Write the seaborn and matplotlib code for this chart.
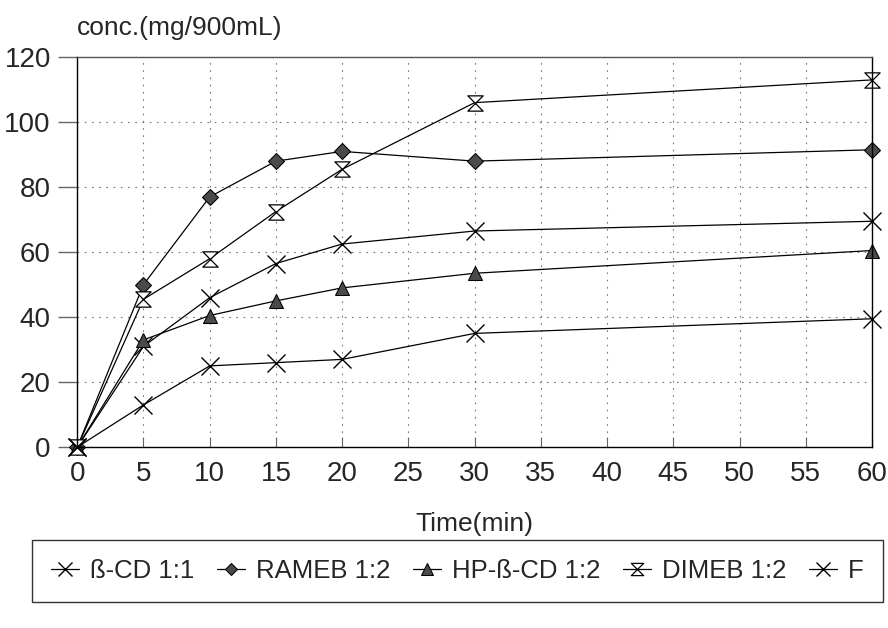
import matplotlib
matplotlib.use("Agg")
import matplotlib.pyplot as plt
from matplotlib.path import Path
import numpy as np
import pandas as pd
import seaborn as sns

# data
time_min = [0, 5, 10, 15, 20, 30, 60]
bcd_11 = [0, 31, 46, 56.5, 62.5, 66.5, 69.5]
rameb_12 = [0, 50, 77, 88, 91, 88, 91.5]
hpbcd_12 = [0, 33, 40.5, 45, 49, 53.5, 60.5]
dimeb_12 = [0, 45.5, 58, 72.5, 85.5, 106, 113]
free_f = [0, 13, 25, 26, 27, 35, 39.5]

labels = ["ß-CD 1:1", "RAMEB 1:2", "HP-ß-CD 1:2", "DIMEB 1:2", "F"]
x_ticks = list(range(0, 65, 5))
y_ticks = list(range(0, 140, 20))

hourglass = Path([(-1, 1), (1, 1), (0, 0), (1, -1), (-1, -1), (0, 0), (-1, 1)],
                 [Path.MOVETO, Path.LINETO, Path.LINETO, Path.LINETO,
                  Path.LINETO, Path.LINETO, Path.CLOSEPOLY])

styles = {
    "ß-CD 1:1": dict(marker="x", markersize=13, markeredgewidth=1.0,
                     markeredgecolor="black"),
    "RAMEB 1:2": dict(marker="D", markersize=8, markerfacecolor="#4a4a4a",
                      markeredgecolor="black"),
    "HP-ß-CD 1:2": dict(marker="^", markersize=10, markerfacecolor="#4a4a4a",
                        markeredgecolor="black"),
    "DIMEB 1:2": dict(marker=hourglass, markersize=11, markerfacecolor="white",
                      markeredgecolor="black", markeredgewidth=0.9),
    "F": dict(marker="x", markersize=13, markeredgewidth=1.0,
              markeredgecolor="black"),
}

df = pd.DataFrame({
    "time": time_min * 5,
    "conc": bcd_11 + rameb_12 + hpbcd_12 + dimeb_12 + free_f,
    "series": np.repeat(labels, len(time_min)),
})

sns.set_theme(style="white")
plt.rcParams["font.family"] = ["Liberation Sans", "DejaVu Sans"]

fig, ax = plt.subplots(figsize=(8.88, 6.28), dpi=100)
fig.subplots_adjust(left=0.087, right=0.982, top=0.909, bottom=0.288)

for name in labels:
    sub = df[df["series"] == name]
    sns.lineplot(data=sub, x="time", y="conc", ax=ax, color="black",
                 linewidth=0.9, label=name, clip_on=False, **styles[name])

ax.set_xlim(0, 60)
ax.set_ylim(0, 120)
ax.set_xticks(x_ticks)
ax.set_yticks(y_ticks)
ax.tick_params(axis="y", labelsize=20, length=14, width=1.0, color="#666666",
               direction="out", left=True, pad=5)
ax.tick_params(axis="x", labelsize=20, length=7, width=0.8, color="#666666",
               direction="in", bottom=True, pad=10)
ax.grid(True, linestyle=(0, (1.5, 5)), color="#777777", linewidth=0.8)

for side in ["left", "bottom", "right"]:
    ax.spines[side].set_color("black")
    ax.spines[side].set_linewidth(1.0)
ax.spines["top"].set_color("#555555")
ax.spines["top"].set_linewidth(1.0)

ax.set_xlabel("Time(min)", fontsize=19, labelpad=18)
ax.set_ylabel("")
fig.text(0.087, 0.955, "conc.(mg/900mL)", fontsize=19, ha="left", va="center")

handles, lbls = ax.get_legend_handles_labels()
ax.legend(handles, lbls, ncol=5, loc="center", bbox_to_anchor=(0.515, 0.0905),
          bbox_transform=fig.transFigure, fontsize=18.5, frameon=True,
          fancybox=False, edgecolor="black", handlelength=1.1,
          handletextpad=0.4, columnspacing=0.9, borderpad=0.75,
          markerscale=0.8)
ax.get_legend().get_frame().set_linewidth(1.0)

fig.savefig("out.png", dpi=100)
